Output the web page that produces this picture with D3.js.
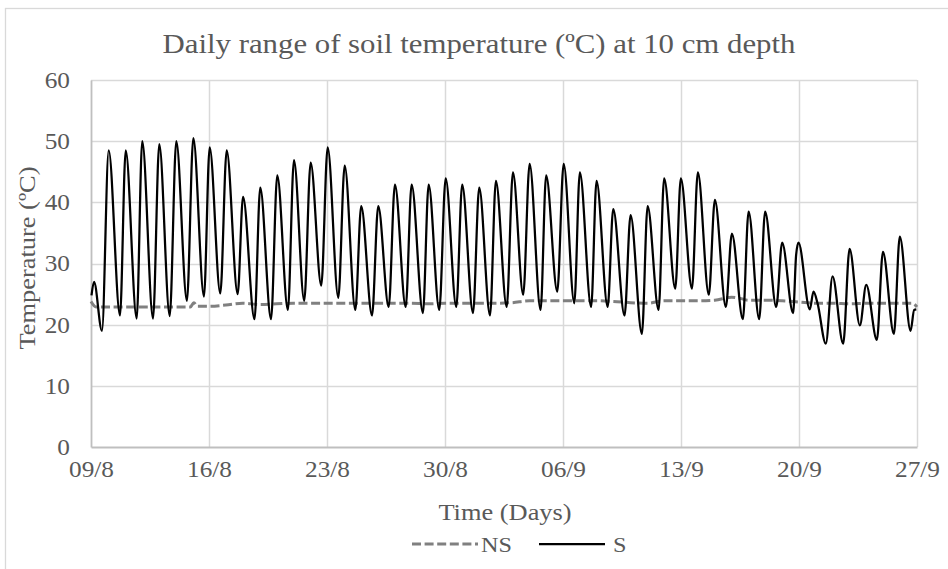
<!DOCTYPE html>
<html>
<head>
<meta charset="utf-8">
<script src="https://cdn.jsdelivr.net/npm/d3@7"></script>
<style>
  html, body { margin: 0; padding: 0; background: #fff; }
  svg { display: block; }
  text { font-family: "Liberation Serif", "DejaVu Serif", serif; fill: #595959; }
</style>
</head>
<body>
<svg id="chart" width="948" height="569"></svg>
<script>
// ---------- DATA ----------
const titleText = "Daily range of soil temperature (ºC) at 10 cm depth";
const xTitle = "Time (Days)";
const yTitle = "Temperature (ºC)";
const xTickDays = [0, 7, 14, 21, 28, 35, 42, 49];
const xTickLabels = ["09/8", "16/8", "23/8", "30/8", "06/9", "13/9", "20/9", "27/9"];
const yTicks = [0, 10, 20, 30, 40, 50, 60];
const seriesNames = ["NS", "S"];

// S series: time in days since 09/8, temperature (ºC) at the daily turning points
const sDay = [0.03, 0.18, 0.65, 1.05, 1.72, 2.06, 2.71, 3.04, 3.68, 4.05, 4.67, 5.06, 5.69, 6.07, 6.70, 7.04,
  7.67, 8.05, 8.70, 9.02, 9.70, 10.04, 10.68, 11.05, 11.68, 12.04, 12.65, 13.03, 13.66, 14.04, 14.67, 15.05,
  15.68, 16.03, 16.67, 17.04, 17.66, 18.03, 18.67, 19.02, 19.69, 20.03, 20.66, 21.04, 21.67, 22.02, 22.66,
  23.03, 23.67, 24.02, 24.66, 25.03, 25.64, 26.02, 26.67, 27.00, 27.66, 28.04, 28.67, 29.00, 29.67, 29.99,
  30.65, 30.98, 31.65, 32.01, 32.68, 33.02, 33.67, 34.00, 34.66, 34.99, 35.65, 36.00, 36.65, 37.01, 37.66,
  38.02, 38.67, 39.01, 39.64, 39.99, 40.65, 41.00, 41.65, 41.83, 41.97, 42.64, 42.86, 43.10, 43.59, 43.99,
  44.62, 45.00, 45.61, 45.99, 46.62, 46.98, 47.63, 47.98, 48.62, 48.83, 48.96];
const sTemp = [24.8, 27.0, 19.0, 48.5, 21.5, 48.5, 21.0, 50.0, 21.0, 49.5, 21.4, 50.0, 23.9, 50.5, 24.6, 49.0,
  25.1, 48.5, 25.0, 40.9, 20.9, 42.4, 20.9, 44.4, 22.4, 46.9, 23.9, 46.5, 26.4, 49.0, 24.4, 46.0,
  22.4, 39.4, 21.5, 39.4, 22.9, 42.9, 22.9, 42.9, 21.9, 42.9, 22.4, 43.9, 22.9, 42.9, 21.9,
  42.4, 21.5, 43.5, 22.9, 44.9, 24.9, 46.3, 22.4, 44.4, 25.4, 46.3, 23.5, 44.9, 22.9, 43.5,
  22.9, 38.9, 21.5, 37.9, 18.5, 39.4, 22.4, 43.9, 25.9, 43.9, 25.9, 44.9, 24.9, 40.4, 22.9,
  34.9, 20.9, 38.5, 20.9, 38.5, 22.9, 33.4, 21.9, 31.4, 33.4, 22.5, 25.4, 23.5, 16.9, 27.9,
  16.9, 32.4, 19.9, 26.5, 17.5, 31.9, 18.5, 34.4, 19.0, 22.4, 22.5];

// NS series: time in days since 09/8, temperature (ºC)
const nsDay = [0, 0.3, 1, 2, 3, 4, 5, 5.9, 6.1, 6.3, 7, 8, 9, 10, 11, 12, 13, 14, 15, 16, 17, 18, 19, 20,
  21, 22, 23, 24, 25, 26, 27, 28, 29, 30, 31, 32, 33, 34, 35, 36, 37, 38, 38.5, 39, 40, 41, 42, 43, 44,
  45, 46, 47, 48, 48.7, 49];
const nsTemp = [23.8, 22.9, 22.9, 22.9, 22.9, 22.9, 22.9, 22.9, 23.6, 23.0, 23.0, 23.2, 23.5, 23.3, 23.4,
  23.5, 23.5, 23.5, 23.5, 23.5, 23.5, 23.5, 23.5, 23.4, 23.5, 23.5, 23.5, 23.5, 23.6, 23.9, 23.9, 23.9,
  23.9, 23.9, 23.8, 23.6, 23.5, 23.9, 23.9, 23.9, 24.0, 24.5, 24.3, 24.0, 24.0, 23.9, 23.7, 23.5, 23.5,
  23.4, 23.5, 23.5, 23.5, 23.5, 22.9];

// ---------- LAYOUT ----------
const W = 948, H = 569;
const plot = { left: 91, right: 917, top: 80, bottom: 447 };
const SX = 1.1; // horizontal widening of the (Palatino-like) reference lettering
const DASH = "9,3.6";
const svg = d3.select("#chart");

// outer chart border (chart area runs slightly past the right edge)
svg.append("rect")
  .attr("x", 5.5).attr("y", 8.5).attr("width", W).attr("height", H)
  .attr("fill", "#fff").attr("stroke", "#d9d9d9").attr("stroke-width", 1.3);

const x = d3.scaleLinear().domain([xTickDays[0], xTickDays[xTickDays.length - 1]]).range([plot.left, plot.right]);
const y = d3.scaleLinear().domain([yTicks[0], yTicks[yTicks.length - 1]]).range([plot.bottom, plot.top]);

// gridlines
const grid = svg.append("g");
grid.selectAll("line.h").data(yTicks.slice(1)).join("line")
  .attr("x1", plot.left).attr("x2", plot.right)
  .attr("y1", d => Math.round(y(d)) + 0.5).attr("y2", d => Math.round(y(d)) + 0.5)
  .attr("stroke", "#d9d9d9").attr("stroke-width", 1.5);
grid.selectAll("line.v").data(xTickDays.slice(1)).join("line")
  .attr("y1", plot.top).attr("y2", plot.bottom)
  .attr("x1", d => Math.round(x(d)) + 0.5).attr("x2", d => Math.round(x(d)) + 0.5)
  .attr("stroke", "#d9d9d9").attr("stroke-width", 1.5);

// axes
const xAxis = d3.axisBottom(x).tickValues(xTickDays).tickFormat((d, i) => xTickLabels[i]).tickSize(0).tickPadding(14);
const gx = svg.append("g").attr("transform", `translate(0,${plot.bottom})`).call(xAxis);
gx.attr("font-family", null).attr("font-size", null);
gx.select(".domain").attr("stroke", "#bfbfbf").attr("stroke-width", 1.8);
gx.selectAll("text").attr("font-size", 23).attr("fill", "#595959")
  .attr("transform", `scale(${SX},1)`);

const yAxis = d3.axisLeft(y).tickValues(yTicks).tickSize(0);
const gy = svg.append("g").attr("transform", `translate(${plot.left},0)`).call(yAxis);
gy.attr("font-family", null).attr("font-size", null);
gy.select(".domain").attr("stroke", "#bfbfbf").attr("stroke-width", 1.8);
gy.selectAll("text").attr("font-size", 23).attr("fill", "#595959")
  .attr("x", -21 / SX).attr("transform", `scale(${SX},1)`);

// series lines
const nsData = nsDay.map((d, i) => [d, nsTemp[i]]);
const sData = sDay.map((d, i) => [d, sTemp[i]]);
const line = d3.line().x(d => x(d[0])).y(d => y(d[1])).curve(d3.curveMonotoneX);

svg.append("path").datum(nsData)
  .attr("d", line).attr("fill", "none")
  .attr("stroke", "#808080").attr("stroke-width", 3).attr("stroke-dasharray", DASH);
svg.append("path").datum(sData)
  .attr("d", line).attr("fill", "none")
  .attr("stroke", "#000").attr("stroke-width", 2.25).attr("stroke-linejoin", "round");

// title
svg.append("text").attr("transform", `translate(479,53) scale(${SX},1)`).attr("text-anchor", "middle")
  .attr("font-size", 28).text(titleText);

// axis titles
svg.append("text").attr("transform", `translate(505,520) scale(${SX},1)`).attr("text-anchor", "middle")
  .attr("font-size", 24).text(xTitle);
svg.append("text").attr("transform", `translate(35,258) rotate(-90) scale(${SX},1)`)
  .attr("text-anchor", "middle").attr("font-size", 24).text(yTitle);

// legend
const lg = svg.append("g").attr("transform", "translate(0,544)");
lg.append("line").attr("x1", 412).attr("x2", 478).attr("y1", 0).attr("y2", 0)
  .attr("stroke", "#808080").attr("stroke-width", 3).attr("stroke-dasharray", DASH);
lg.append("text").attr("transform", `translate(481,8) scale(${SX},1)`).attr("font-size", 22).text(seriesNames[0]);
lg.append("line").attr("x1", 539).attr("x2", 605).attr("y1", 0).attr("y2", 0)
  .attr("stroke", "#000").attr("stroke-width", 2.25);
lg.append("text").attr("transform", `translate(613,8) scale(${SX},1)`).attr("font-size", 22).text(seriesNames[1]);
</script>
</body>
</html>
